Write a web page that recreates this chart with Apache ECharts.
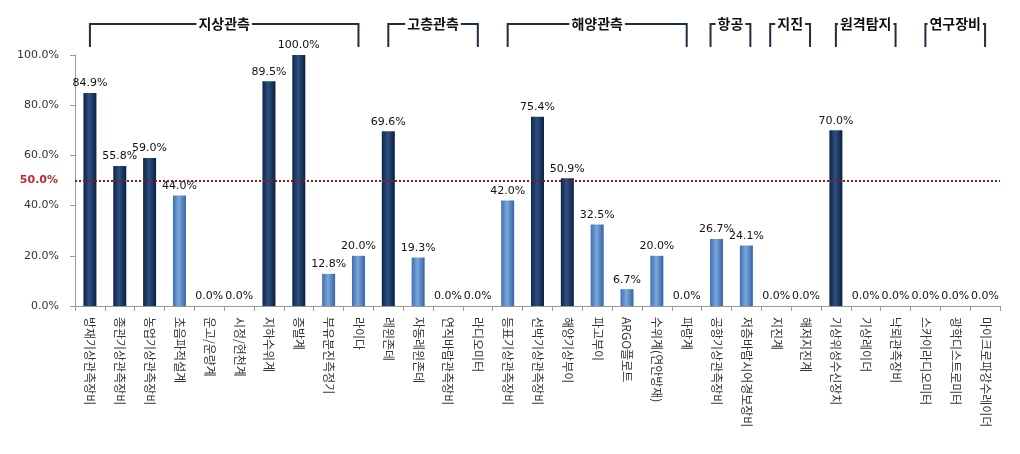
<!DOCTYPE html>
<html><head><meta charset="utf-8">
<script src="https://cdn.jsdelivr.net/npm/echarts@6/dist/echarts.min.js"></script>
<style>html,body{margin:0;padding:0;background:#fff}#c{width:1020px;height:454px}</style>
</head><body><div id="c"></div>
<script>
const categories = ['방재기상관측장비','종관기상관측장비','농업기상관측장비','초음파적설계','운고/운량계','시정/현천계','지하수위계','증발계','부유분진측정기','라이다','레윈존데','자동레윈존데','연직바람관측장비','라디오미터','등표기상관측장비','선박기상관측장비','해양기상부이','파고부이','ARGO플로트','수위계(연안방재)','파랑계','공항기상관측장비','저층바람시어경보장비','지진계','해저지진계','기상위성수신장치','기상레이더','낙뢰관측장비','스카이라디오미터','광학디스트로미터','마이크로파강수레이더'];
const values = [84.9,55.8,59.0,44.0,0.0,0.0,89.5,100.0,12.8,20.0,69.6,19.3,0.0,0.0,42.0,75.4,50.9,32.5,6.7,20.0,0.0,26.7,24.1,0.0,0.0,70.0,0.0,0.0,0.0,0.0,0.0];
const yTicks = [0,20,40,60,80,100];
const threshold = 50;
const groupNames = ['지상관측','고층관측','해양관측','항공','지진','원격탐지','연구장비'];
const groupStart = [0,10,14,21,23,25,28];
const groupEnd   = [9,13,20,22,24,27,30];

const darkGrad = {type:'linear',x:0,y:0,x2:1,y2:0,colorStops:[{offset:0,color:'#0e2447'},{offset:0.45,color:'#2d4f82'},{offset:1,color:'#0c1f3d'}]};
const lightGrad = {type:'linear',x:0,y:0,x2:1,y2:0,colorStops:[{offset:0,color:'#3d6fb0'},{offset:0.45,color:'#7aa6dc'},{offset:1,color:'#3564a3'}]};

const chart = echarts.init(document.getElementById('c'));
chart.setOption({
  animation:false,
  backgroundColor:'#fff',
  grid:{left:75,right:20,top:55,bottom:148},
  xAxis:{type:'category',data:categories,boundaryGap:true,
    axisLine:{lineStyle:{color:'#9a9a9a'}},
    axisTick:{show:true,alignWithLabel:false,length:5,lineStyle:{color:'#9a9a9a'}},
    axisLabel:{rotate:-90,interval:0,color:'#333',fontSize:12,fontFamily:'Noto Sans CJK KR',margin:11}},
  yAxis:{type:'value',min:yTicks[0],max:yTicks[yTicks.length-1],interval:20,
    splitLine:{show:false},
    axisLine:{show:true,lineStyle:{color:'#9a9a9a'}},
    axisTick:{show:true,length:5,lineStyle:{color:'#9a9a9a'}},
    axisLabel:{color:'#333',fontSize:11,fontFamily:'DejaVu Sans',margin:16,formatter:v=>v.toFixed(1)+'%'}},
  series:[{type:'bar',barWidth:13,
    data:values.map(v=>({value:v,itemStyle:{color:v>=threshold?darkGrad:lightGrad}})),
    label:{show:true,position:'top',distance:4,color:'#111',fontSize:11,fontFamily:'DejaVu Sans',formatter:p=>p.value.toFixed(1)+'%'},
    markLine:{silent:true,symbol:'none',
      lineStyle:{color:'#8b1a1a',type:'dotted',width:2},
      label:{position:'start',formatter:'50.0%',color:'#c0282d',fontWeight:'bold',fontSize:11,fontFamily:'DejaVu Sans',distance:17},
      data:[{yAxis:threshold}]}
  }]
});

const topY = 24, botY = 47;
const graphics = [];
groupNames.forEach((name,i)=>{
  const x1 = chart.convertToPixel({xAxisIndex:0}, groupStart[i]) - (groupEnd[i]-groupStart[i] < 2 ? 6 : 0);
  const x2 = chart.convertToPixel({xAxisIndex:0}, groupEnd[i]) + (groupEnd[i]-groupStart[i] < 2 ? 4 : 0);
  graphics.push({type:'polyline',shape:{points:[[x1,botY],[x1,topY],[x2,topY],[x2,botY]]},
    style:{stroke:'#1f2e40',lineWidth:2,fill:null},z:10});
  graphics.push({type:'text',x:(x1+x2)/2,y:topY,z:11,
    style:{text:name,fill:'#111',font:'bold 14px "Noto Sans CJK KR"',align:'center',verticalAlign:'middle',
      backgroundColor:'#fff',padding:[0,2]}});
});
chart.setOption({graphic:graphics});
</script></body></html>
